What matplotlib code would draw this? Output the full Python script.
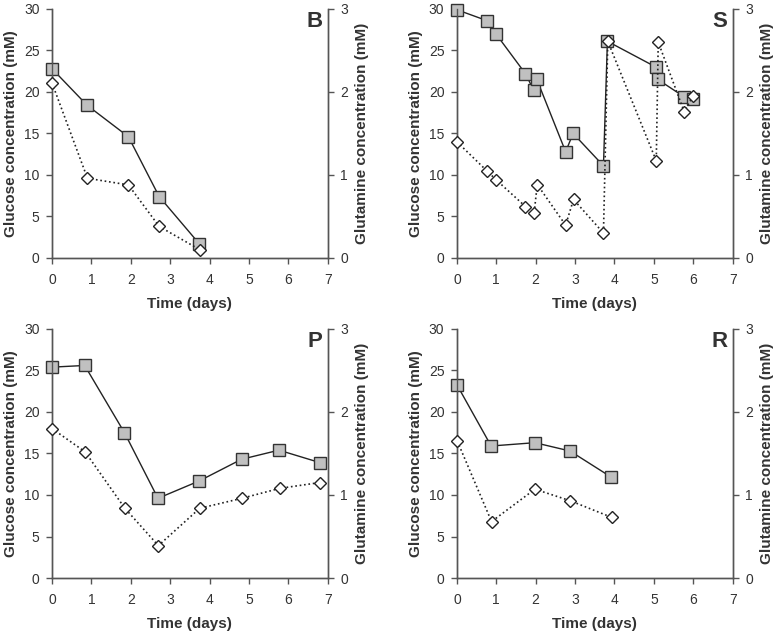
import matplotlib.pyplot as plt

plt.rcParams['font.family'] = ['Liberation Sans', 'DejaVu Sans']

# panel B
b_glc_t = [0, 0.89, 1.94, 2.72, 3.74]
b_glc = [22.8, 18.4, 14.6, 7.4, 1.7]
b_gln_t = [0, 0.9, 1.94, 2.72, 3.75]
b_gln = [2.11, 0.96, 0.88, 0.38, 0.10]

# panel S
s_glc_t = [0, 0.755, 0.99, 1.74, 1.95, 2.03, 2.76, 2.95, 3.72, 3.82, 5.05, 5.1, 5.77, 5.98]
s_glc = [29.9, 28.6, 27.0, 22.2, 20.2, 21.5, 12.8, 15.0, 11.1, 26.1, 23.0, 21.5, 19.4, 19.2]
s_gln_t = [0, 0.76, 1.0, 1.74, 1.96, 2.04, 2.76, 2.96, 3.72, 3.83, 5.06, 5.11, 5.77, 5.99]
s_gln = [1.40, 1.05, 0.94, 0.62, 0.54, 0.885, 0.395, 0.705, 0.30, 2.61, 1.17, 2.60, 1.76, 1.95]

# panel P
p_glc_t = [0, 0.83, 1.84, 2.69, 3.74, 4.81, 5.76, 6.8]
p_glc = [25.4, 25.6, 17.5, 9.6, 11.7, 14.3, 15.4, 13.9]
p_gln_t = [0, 0.84, 1.85, 2.7, 3.75, 4.82, 5.78, 6.8]
p_gln = [1.80, 1.52, 0.84, 0.39, 0.84, 0.96, 1.08, 1.15]

# panel R
r_glc_t = [0.01, 0.87, 1.98, 2.87, 3.9]
r_glc = [23.2, 15.9, 16.3, 15.3, 12.2]
r_gln_t = [0.01, 0.88, 1.98, 2.88, 3.93]
r_gln = [1.65, 0.68, 1.07, 0.93, 0.73]

panels = [
    ('B', b_glc_t, b_glc, b_gln_t, b_gln, [0.0669, 0.595]),
    ('S', s_glc_t, s_glc, s_gln_t, s_gln, [0.588, 0.595]),
    ('P', p_glc_t, p_glc, p_gln_t, p_gln, [0.0669, 0.0926]),
    ('R', r_glc_t, r_glc, r_gln_t, r_gln, [0.588, 0.0926]),
]

txt = '#333333'
spine_c = '#555555'

fig = plt.figure(figsize=(7.77, 6.37), dpi=100)

for name, gt, gv, qt, qv, (x0, y0) in panels:
    ax = fig.add_axes([x0, y0, 0.355, 0.391])
    ax2 = ax.twinx()

    ax.plot(gt, gv, '-', color='#222222', lw=1.0, marker='s', ms=8,
            mfc='#c0c0c0', mec='#333333', mew=1.0, clip_on=False, zorder=3)
    ax2.plot(qt, qv, ':', color='#222222', lw=1.2, marker='D', ms=6.5,
             mfc='white', mec='#222222', mew=1.0, clip_on=False, zorder=3)

    ax.set_xlim(0, 7)
    ax.set_ylim(0, 30)
    ax2.set_ylim(0, 3)
    ax.set_xticks(range(8))
    ax.set_yticks(range(0, 31, 5))
    ax2.set_yticks([0, 1, 2, 3])

    for a in (ax, ax2):
        a.spines['top'].set_visible(False)
        for s in ('left', 'right', 'bottom'):
            a.spines[s].set_color(spine_c)
            a.spines[s].set_linewidth(1.0)
        a.tick_params(colors=spine_c, labelcolor=txt, labelsize=10,
                      direction='out', length=4, width=1.0, pad=5)
    ax.tick_params(axis='x', pad=7)

    ax.set_xlabel('Time (days)', fontsize=11, fontweight='bold', color=txt, labelpad=7)
    ax.set_ylabel('Glucose concentration (mM)', fontsize=11, fontweight='bold',
                  color=txt, labelpad=4)
    ax2.set_ylabel('Glutamine concentration (mM)', fontsize=11, fontweight='bold',
                   color=txt, labelpad=5)

    ax.text(0.98, 0.99, name, transform=ax.transAxes, ha='right', va='top',
            fontsize=16, fontweight='bold', color=txt)

fig.savefig('out.png', dpi=100)
